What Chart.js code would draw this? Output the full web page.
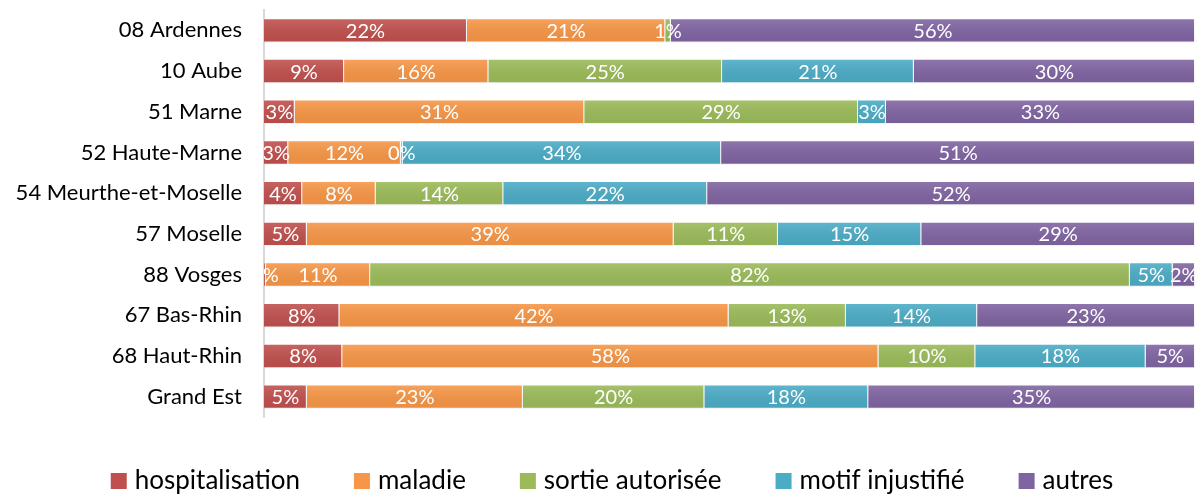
<!DOCTYPE html>
<html>
<head>
<meta charset="utf-8">
<script src="https://cdn.jsdelivr.net/npm/chart.js@4.4.1/dist/chart.umd.min.js"></script>
<style>
  html, body { margin: 0; padding: 0; background: #fff; }
  #wrap { width: 1196px; height: 494px; }
</style>
</head>
<body>
<div id="wrap"><canvas id="absChart"></canvas></div>
<script>
const departements = ["08 Ardennes", "10 Aube", "51 Marne", "52 Haute-Marne", "54 Meurthe-et-Moselle",
  "57 Moselle", "88 Vosges", "67 Bas-Rhin", "68 Haut-Rhin", "Grand Est"];

// parts en %
const hospitalisation = [21.8, 8.6, 3.3, 2.6, 4.1, 4.6, 0.2, 8.1, 8.4, 4.6];
const maladie         = [21.3, 15.5, 31.1, 12.1, 7.9, 39.4, 11.2, 41.8, 57.6, 23.2];
const sortieAutorisee = [0.6, 25.1, 29.4, 0.2, 13.7, 11.2, 81.6, 12.6, 10.4, 19.5];
const motifInjustifie = [0, 20.6, 3.0, 34.2, 21.9, 15.4, 4.6, 14.1, 18.3, 17.6];
const autres          = [56.3, 30.2, 33.2, 50.9, 52.4, 29.4, 2.4, 23.4, 5.3, 35.1];

const series = [
  { label: "hospitalisation", data: hospitalisation, color: "#C0504D" },
  { label: "maladie", data: maladie, color: "#F79646" },
  { label: "sortie autorisée", data: sortieAutorisee, color: "#9BBB59" },
  { label: "motif injustifié", data: motifInjustifie, color: "#4BACC6" },
  { label: "autres", data: autres, color: "#8064A2" }
];

const FONT = "Lato";

// étiquettes blanches au centre de chaque segment
const pctLabels = {
  id: "pctLabels",
  afterDatasetsDraw(chart) {
    const ctx = chart.ctx, area = chart.chartArea;
    ctx.save();
    ctx.beginPath();
    ctx.rect(area.left, area.top, area.right - area.left, area.bottom - area.top);
    ctx.clip();
    ctx.font = "20px " + FONT;
    ctx.fillStyle = "#fff";
    ctx.textAlign = "center";
    ctx.textBaseline = "middle";
    chart.data.datasets.forEach((ds, i) => {
      chart.getDatasetMeta(i).data.forEach((bar, j) => {
        const v = ds.data[j];
        if (!v) return;
        const cx = (bar.x + bar.base) / 2;
        ctx.fillText(Math.round(v) + "%", cx, bar.y + 1);
      });
    });
    ctx.restore();
  }
};

// léger dégradé sur les barres
const barShade = {
  id: "barShade",
  afterDatasetsDraw(chart) {
    const ctx = chart.ctx;
    ctx.save();
    chart.data.datasets.forEach((ds, i) => {
      chart.getDatasetMeta(i).data.forEach(bar => {
        const h = bar.height, top = bar.y - h / 2;
        const g = ctx.createLinearGradient(0, top, 0, top + h);
        g.addColorStop(0, "rgba(255,255,255,0.12)");
        g.addColorStop(1, "rgba(0,0,0,0.05)");
        ctx.fillStyle = g;
        ctx.fillRect(Math.min(bar.x, bar.base), top, Math.abs(bar.x - bar.base), h);
      });
    });
    ctx.restore();
  }
};

// légende en bas, espacée comme l'original
const bottomLegend = {
  id: "bottomLegend",
  afterDraw(chart) {
    const ctx = chart.ctx;
    ctx.save();
    ctx.font = "26px " + FONT;
    ctx.textBaseline = "alphabetic";
    const box = 16, gapText = 8, gapItem = 54;
    const widths = series.map(s => box + gapText + ctx.measureText(s.label).width);
    const total = widths.reduce((a, b) => a + b, 0) + gapItem * (series.length - 1);
    let x = 612 - total / 2;
    const baseY = 489;
    series.forEach((s, i) => {
      ctx.fillStyle = s.color;
      ctx.fillRect(x, baseY - box, box, box);
      ctx.fillStyle = "#000";
      ctx.fillText(s.label, x + box + gapText, baseY);
      x += widths[i] + gapItem;
    });
    ctx.restore();
  }
};

const absChart = new Chart(document.getElementById("absChart"), {
  type: "bar",
  data: {
    labels: departements,
    datasets: series.map(s => ({
      label: s.label,
      data: s.data,
      backgroundColor: s.color,
      borderColor: "rgba(255,255,255,0.25)",
      borderWidth: 1,
      barPercentage: 0.6,
      categoryPercentage: 1
    }))
  },
  options: {
    indexAxis: "y",
    responsive: true,
    maintainAspectRatio: false,
    animation: false,
    layout: { padding: { top: 10, bottom: 77, right: 1, left: 0 } },
    plugins: {
      legend: { display: false },
      tooltip: { enabled: false }
    },
    scales: {
      x: { stacked: true, min: 0, max: 100, display: false },
      y: {
        stacked: true,
        grid: { display: false },
        border: { color: "#d9d9d9", width: 2 },
        afterFit(scale) {
          scale.width = 264;
          scale.paddingTop = 0;
          scale.paddingBottom = 0;
        },
        ticks: { color: "#000", padding: 14, font: { family: FONT, size: 22 } }
      }
    }
  },
  plugins: [barShade, pctLabels, bottomLegend]
});
</script>
</body>
</html>
